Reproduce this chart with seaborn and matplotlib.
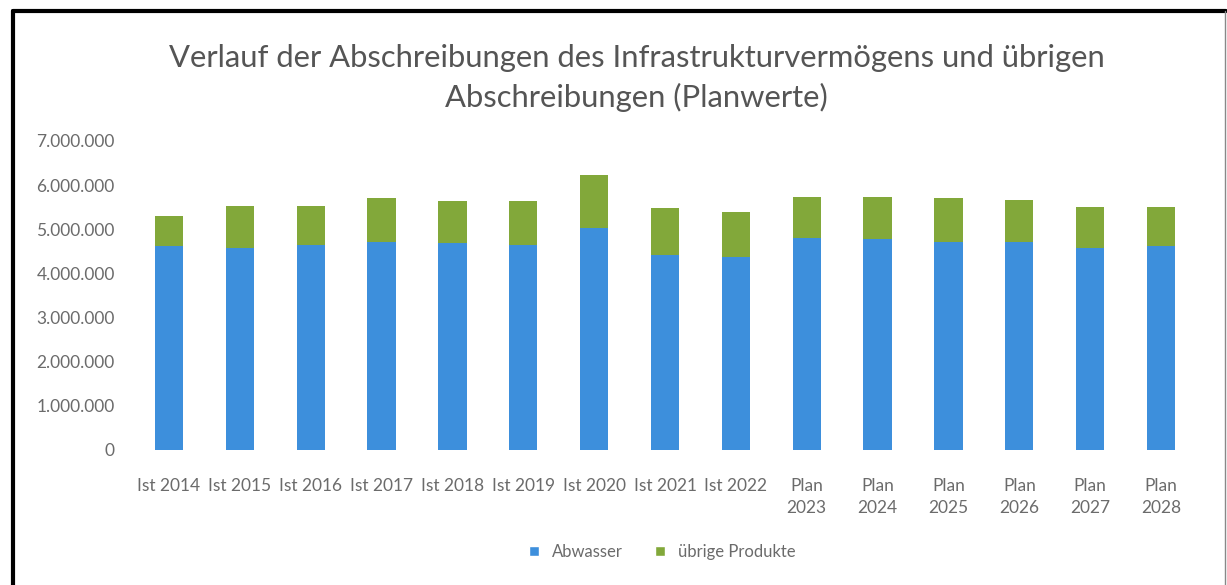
import matplotlib
matplotlib.use("Agg")
import matplotlib.pyplot as plt
import seaborn as sns
import pandas as pd
import numpy as np
from matplotlib.lines import Line2D
from matplotlib.ticker import FuncFormatter

# data
jahre = ["Ist 2014", "Ist 2015", "Ist 2016", "Ist 2017", "Ist 2018", "Ist 2019",
         "Ist 2020", "Ist 2021", "Ist 2022", "Plan\n2023", "Plan\n2024",
         "Plan\n2025", "Plan\n2026", "Plan\n2027", "Plan\n2028"]
abwasser = [4610000, 4580000, 4650000, 4720000, 4690000, 4650000, 5030000,
            4420000, 4380000, 4800000, 4780000, 4720000, 4720000, 4570000, 4610000]
uebrige = [680000, 950000, 880000, 990000, 940000, 980000, 1210000,
           1060000, 1020000, 930000, 950000, 990000, 950000, 930000, 890000]

df = pd.DataFrame({"Jahr": jahre, "Abwasser": abwasser, "übrige Produkte": uebrige})
df["Gesamt"] = df["Abwasser"] + df["übrige Produkte"]

blau = "#3d8fdc"
gruen = "#82a83a"
grau = "#6b6b6b"

sns.set_theme(style="white")
plt.rcParams["font.family"] = ["Lato", "DejaVu Sans"]

fig = plt.figure(figsize=(12.27, 5.85), dpi=100)
ax = fig.add_axes([0.106, 0.231, 0.872, 0.528])

# stacked: total bar in green, Abwasser bar on top in blue
sns.barplot(data=df, x="Jahr", y="Gesamt", color=gruen, width=0.4,
            saturation=1, linewidth=0, ax=ax)
sns.barplot(data=df, x="Jahr", y="Abwasser", color=blau, width=0.4,
            saturation=1, linewidth=0, ax=ax)

ax.set_ylim(0, 7000000)
ax.set_yticks(np.arange(0, 7000001, 1000000))
ax.yaxis.set_major_formatter(FuncFormatter(lambda v, p: f"{int(v):,}".replace(",", ".")))
ax.set_xlim(-0.55, len(jahre) - 0.45)
ax.set_xlabel("")
ax.set_ylabel("")
ax.tick_params(axis="y", colors=grau, labelsize=12.5, length=0, pad=11)
ax.tick_params(axis="x", colors=grau, labelsize=12.5, length=0, pad=20)
for lbl in ax.get_xticklabels():
    lbl.set_linespacing(1.5)
for s in ax.spines.values():
    s.set_visible(False)

fig.text(0.519, 0.866, "Verlauf der Abschreibungen des Infrastrukturvermögens und übrigen\nAbschreibungen (Planwerte)",
         ha="center", va="center", fontsize=22.3, color="#555555", linespacing=1.45)

handles = [Line2D([0], [0], marker="s", color="w", markerfacecolor=blau, markersize=7),
           Line2D([0], [0], marker="s", color="w", markerfacecolor=gruen, markersize=7)]
fig.legend(handles, ["Abwasser", "übrige Produkte"], loc="center",
           bbox_to_anchor=(0.535, 0.057), ncol=2, frameon=False, fontsize=12,
           labelcolor=grau, handletextpad=0.1, columnspacing=1.2)

# frame of the screenshot
fig.add_artist(Line2D([0.0106, 0.0106], [0.0, 0.981], color="black", lw=3))
fig.add_artist(Line2D([0.0106, 0.999], [0.981, 0.981], color="black", lw=3))
fig.add_artist(Line2D([0.998, 0.998], [0.0, 0.981], color="#888888", lw=1))

fig.savefig("out.png", dpi=100)
